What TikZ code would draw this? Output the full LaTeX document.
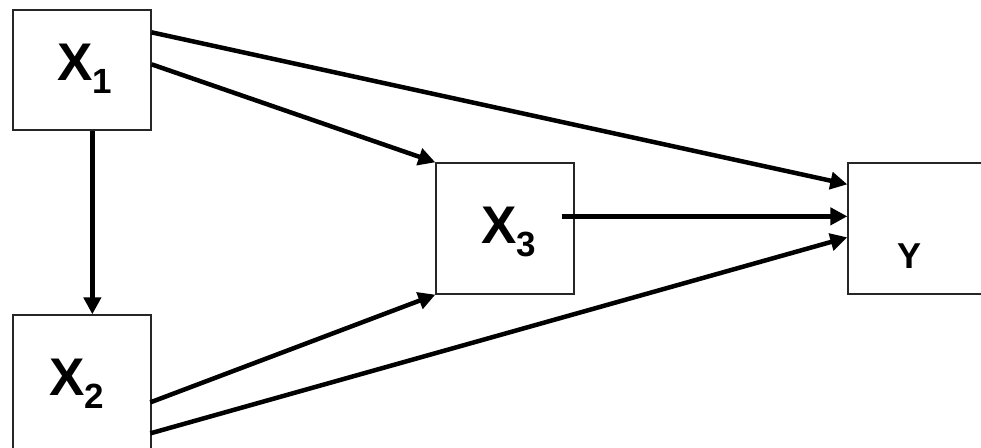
\documentclass[tikz,border=0pt]{standalone}
\usepackage{fontspec}
\setmainfont{Liberation Sans}
\usetikzlibrary{arrows.meta,calc}
\tikzset{
  box/.style={draw=black!85, line width=1.3pt, inner sep=0pt, minimum width=138pt},
  lbl/.style={anchor=base west, inner sep=0pt, font=\fontsize{53}{53}\selectfont\bfseries},
  arr/.style={line width=4.5pt, -{Triangle[length=17pt,width=17pt]}},
}
\newcommand{\subnum}[1]{\raisebox{-13pt}{\fontsize{35}{35}\selectfont\bfseries #1}}
\begin{document}
\begin{tikzpicture}[x=1pt,y=-1pt]
\useasboundingbox (0,0) rectangle (981,447);
\clip (0,0) rectangle (981,447);
\fill[white] (0,0) rectangle (981,447);
\node[box, minimum height=120pt] (x1) at (82,70) {};
\node[box, minimum height=145pt] (x2) at (82,387.5) {};
\node[box, minimum height=131pt] (x3) at (505,228.5) {};
\node[box, minimum height=131pt, minimum width=152pt] (y) at (924,228.5) {};
\node[lbl] (l1) at (57,80) {X\subnum{1}};
\node[lbl] (l2) at (49,395) {X\subnum{2}};
\node[lbl] (l3) at (481,243) {X\subnum{3}};
\node[lbl, font=\fontsize{36}{36}\selectfont\bfseries] (ly) at (897,268) {Y};
\draw[arr] ($(x1.north east)+(0,23)$) -- ($(y.north west)+(0,22)$);
\draw[arr] ($(x1.north east)+(0,55)$) -- (x3.north west);
\draw[arr] ($(x1.south west)+(80,0)$) -- ($(x2.north west)+(80,0)$);
\draw[arr] ($(x3.north west)+(127,54)$) -- ($(y.north west)+(0,54)$);
\draw[arr] ($(x2.north west)+(138,88)$) -- (x3.south west);
\draw[arr] ($(x2.north west)+(138,119)$) -- ($(y.north west)+(0,75)$);
\end{tikzpicture}
\end{document}
